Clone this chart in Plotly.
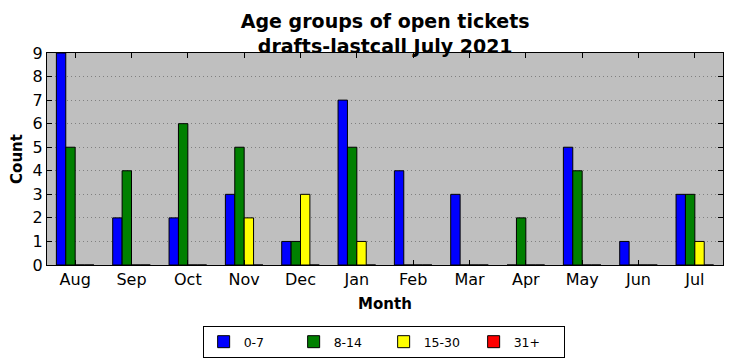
import plotly.graph_objects as go

months = ["Aug", "Sep", "Oct", "Nov", "Dec", "Jan", "Feb", "Mar", "Apr", "May", "Jun", "Jul"]
age_0_7 = [9, 2, 2, 3, 1, 7, 4, 3, 0, 5, 1, 3]
age_8_14 = [5, 4, 6, 5, 1, 5, 0, 0, 2, 4, 0, 3]
age_15_30 = [0, 0, 0, 2, 3, 1, 0, 0, 0, 0, 0, 1]
age_31_plus = [0, 0, 0, 0, 0, 0, 0, 0, 0, 0, 0, 0]
series_names = ["0-7", "8-14", "15-30", "31+"]
colors = ["#0000ff", "#008000", "#ffff00", "#ff0000"]

fig = go.Figure()
for name, vals, col in zip(series_names, [age_0_7, age_8_14, age_15_30, age_31_plus], colors):
    fig.add_trace(go.Bar(x=months, y=vals, name=name,
                         marker=dict(color=col, line=dict(color="black", width=1))))

font = "DejaVu Sans"
# page body has an 8px default margin, so the figure is sized 8px smaller
fig.update_layout(
    width=724, height=353,
    margin=dict(l=39, r=9, t=45, b=96, autoexpand=False),
    paper_bgcolor="white",
    plot_bgcolor="#bfbfbf",
    barmode="group",
    bargap=0.333,
    bargroupgap=0,
    font=dict(family=font, size=16, color="black"),
    title=dict(text="<b>Age groups of open tickets<br>drafts-lastcall July 2021</b>",
               x=0.521, xanchor="center", yref="container", y=0.943, yanchor="middle",
               font=dict(family=font, size=19, color="black")),
    showlegend=True,
    legend=dict(orientation="h", x=0.498, xanchor="center",
                yref="container", y=0.099, yanchor="top",
                bordercolor="black", borderwidth=1, font=dict(size=12.5),
                entrywidth=45, traceorder="normal"),
    xaxis=dict(
        range=[-0.5, 11.5], automargin=False,
        title=dict(text="<b>Month</b>", font=dict(size=15), standoff=10),
        showline=True, linecolor="black", linewidth=1, mirror="ticks",
        ticks="inside", ticklen=5, tickcolor="black",
        showgrid=False,
    ),
    yaxis=dict(
        range=[0, 9], dtick=1, automargin=False,
        title=dict(text="<b>Count</b>", font=dict(size=15), standoff=6),
        showline=True, linecolor="black", linewidth=1, mirror="ticks",
        ticks="inside", ticklen=5, tickcolor="black",
        showgrid=True, gridcolor="#808080", griddash="1px,3px", gridwidth=1,
        zeroline=False,
    ),
)

fig.write_html("out.html")
